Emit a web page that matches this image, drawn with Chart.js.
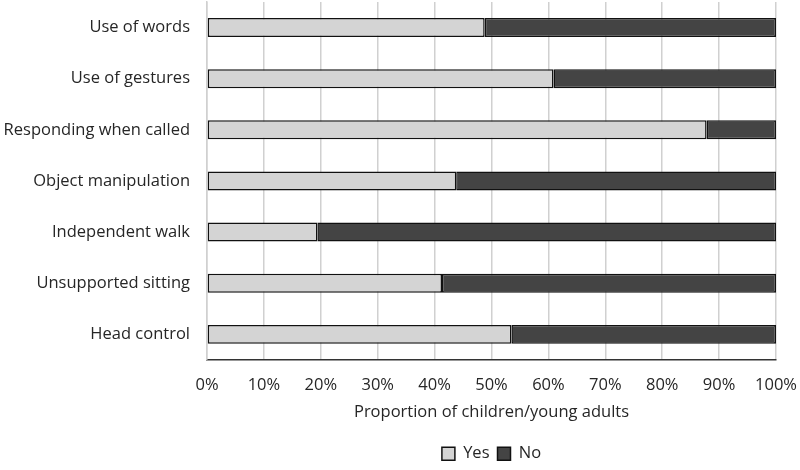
<!DOCTYPE html>
<html><head><meta charset="utf-8">
<script src="https://cdn.jsdelivr.net/npm/chart.js@4/dist/chart.umd.min.js"></script>
<style>html,body{margin:0;padding:0;background:#fff}#w{width:800px;height:470px}</style>
</head><body><div id="w"><canvas id="c"></canvas></div>
<script>
const categories = ["Use of words","Use of gestures","Responding when called","Object manipulation","Independent walk","Unsupported sitting","Head control"];
const yesValues = [48.8, 60.9, 87.8, 43.8, 19.4, 41.3, 53.5];
const noValues = [51.2, 39.1, 12.2, 56.2, 80.6, 58.7, 46.5];
const xTicks = [0,10,20,30,40,50,60,70,80,90,100];
const FONT = "'Open Sans', 'Liberation Sans', sans-serif";
Chart.defaults.font.family = FONT;
Chart.defaults.color = '#262626';
new Chart(document.getElementById('c'), {
  type: 'bar',
  data: {
    labels: categories,
    datasets: [
      {label:'Yes', data: yesValues, backgroundColor:'#d4d4d4', borderColor:'#111', borderWidth:1.5, borderSkipped:false, categoryPercentage:1, barPercentage:0.37},
      {label:'No', data: noValues, backgroundColor:'#444444', borderColor:'#111', borderWidth:1.5, borderSkipped:false, categoryPercentage:1, barPercentage:0.37}
    ]
  },
  options: {
    indexAxis:'y', responsive:true, maintainAspectRatio:false, animation:false,
    layout:{padding:{top:2,right:0,left:0,bottom:-2}},
    plugins:{
      legend:{position:'bottom', fullSize:false, labels:{font:{size:16.5}, boxWidth:13, boxHeight:13, padding:8, color:'#262626'}},
      tooltip:{enabled:false}
    },
    scales:{
      x:{stacked:true, min:0, max:100,
        afterBuildTicks: s => { s.ticks = xTicks.map(v=>({value:v})); },
        afterFit: s => { s.paddingRight = 24; s.paddingLeft = 0; },
        ticks:{callback:v=>v+'%', font:{size:16.5}, padding:15, color:'#262626', maxRotation:0},
        grid:{color:'#d0d0d0', lineWidth:1.5, drawTicks:false},
        border:{color:'#333', width:1.5},
        title:{display:true, text:'Proportion of children/young adults', font:{size:16.5}, color:'#262626', padding:{top:-7,bottom:15}}
      },
      y:{stacked:true,
        afterFit: s => { s.width = 207; s.paddingTop = 0; s.paddingBottom = 0; },
        ticks:{font:{size:16.5}, padding:17, color:'#262626'},
        grid:{display:false, drawTicks:false},
        border:{color:'#d0d0d0', width:1.5}
      }
    }
  }
});
</script></body></html>
